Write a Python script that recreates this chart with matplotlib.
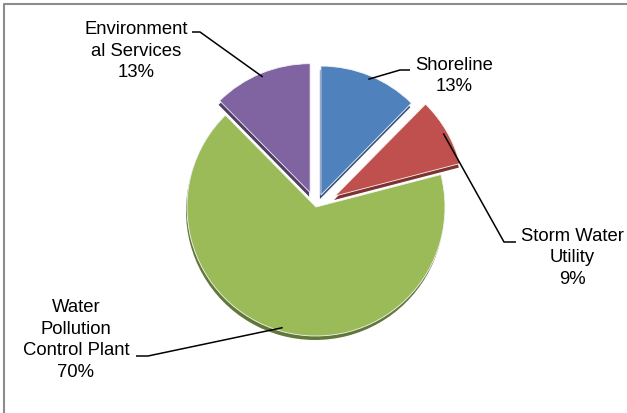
import matplotlib
matplotlib.use("Agg")
import matplotlib.pyplot as plt
import numpy as np

# budget shares by division (percent)
names = ["Shoreline", "Storm Water\nUtility", "Water\nPollution\nControl Plant", "Environment\nal Services"]
shares = [13, 9, 70, 13]
colors = ["#4F81BD", "#C0504D", "#9BBB59", "#8064A2"]
side_colors = ["#34557d", "#7f3331", "#62783a", "#4f3d66"]
explode = [0.10, 0.17, 0.0, 0.12]

W, H = 627, 414


def px(x, y):
    # image pixel (y down) -> axes data (y up)
    return x, H - y


# text centre and leader stub (text end, elbow) for each label
label_pos = [(454, 76), (572, 258), (76, 340), (136, 51)]
stubs = [((410, 71), (400, 71)),
         ((516, 243), (504, 243)),
         ((136, 357), (148, 357)),
         ((192, 33), (200, 33))]

fig = plt.figure(figsize=(W / 100, H / 100), dpi=100)
ax = fig.add_axes([0, 0, 1, 1])

cx, cy = px(316, 208)
radius = 129
offsets = [e * radius for e in explode]  # pie explode is in data units

# darker copy underneath gives the slices some thickness
ax.pie(shares, explode=offsets, colors=side_colors, startangle=90,
       counterclock=False, radius=radius, center=(cx - 1, cy - 4),
       wedgeprops=dict(linewidth=0))
wedges, _ = ax.pie(shares, explode=offsets, colors=colors, startangle=90,
                   counterclock=False, radius=radius, center=(cx, cy),
                   wedgeprops=dict(linewidth=0.6, edgecolor="#f4f4f4"))

for w, name, v, (tx, ty), (s0, s1) in zip(wedges, names, shares, label_pos, stubs):
    mid = np.deg2rad((w.theta1 + w.theta2) / 2)
    ex, ey = w.center
    r = w.r * 0.97
    end = (ex + r * np.cos(mid), ey + r * np.sin(mid))
    p0, p1 = px(*s0), px(*s1)
    ax.plot([p0[0], p1[0], end[0]], [p0[1], p1[1], end[1]],
            color="black", lw=1.1, solid_capstyle="butt")
    x, y = px(tx, ty)
    ax.text(x, y, f"{name}\n{v}%", ha="center", va="center",
            fontsize=13.3, family="Liberation Sans", linespacing=1.36)

# chart frame
ax.plot([4, 4, W + 5], [-5, H - 5, H - 5], color="#8c8c8c", lw=1.5)

ax.set_xlim(0, W)
ax.set_ylim(0, H)
ax.set_aspect("auto")
ax.axis("off")

fig.savefig("out.png", dpi=100)
